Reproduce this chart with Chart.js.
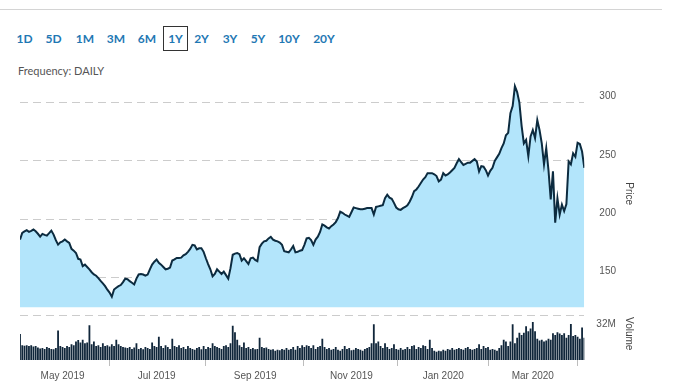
<!DOCTYPE html>
<html><head><meta charset="utf-8">
<script src="https://cdn.jsdelivr.net/npm/chart.js@4/dist/chart.umd.min.js"></script>
<style>
html,body{margin:0;padding:0;background:#fff;overflow:hidden;width:678px;height:381px;}
#wrap{position:absolute;left:0;top:0;width:678px;height:392px;}
.topline{position:absolute;left:0;top:9px;width:662px;height:1px;background:#d4d4d4;}
.rng{position:absolute;top:31px;font-family:Lato,sans-serif;font-weight:bold;font-size:12px;color:#1f78b4;transform:translateX(-50%);line-height:15px;white-space:nowrap;}
.box{position:absolute;left:163px;top:26px;width:23px;height:23px;border:1px solid #333;}
.freq{position:absolute;left:18px;top:64px;font-family:Lato,sans-serif;font-size:11px;color:#555;line-height:14px;}
</style></head>
<body>
<div class="topline"></div>
<div class="box"></div>
<span class="rng" style="left:24.5px">1D</span>
<span class="rng" style="left:53.5px">5D</span>
<span class="rng" style="left:85px">1M</span>
<span class="rng" style="left:116px">3M</span>
<span class="rng" style="left:147px">6M</span>
<span class="rng" style="left:175.5px">1Y</span>
<span class="rng" style="left:201.5px">2Y</span>
<span class="rng" style="left:230px">3Y</span>
<span class="rng" style="left:258px">5Y</span>
<span class="rng" style="left:289px">10Y</span>
<span class="rng" style="left:324px">20Y</span>
<div class="freq">Frequency: DAILY</div>
<div id="wrap"><canvas id="c" width="678" height="392"></canvas></div>
<script>
// ---- data ----
const monthTickIdx = [19, 61, 105, 148, 189, 229];
const monthLabels = ['May 2019','Jul 2019','Sep 2019','Nov 2019','Jan 2020','Mar 2020'];
const priceTicks = [150, 200, 250, 300];
const volumeTicks = [32];
const closePrices = [
182.5,188.2,189.5,190.5,189.1,190,191.1,189.6,187.5,185.1,
187.4,186.5,185.9,188,190.2,186.8,182,178.2,180.2,181,
182.5,181,179.7,174.5,173,171,166,165.4,159.7,161,
159,157,154.5,152.6,151.5,149.5,147,145,142.6,139.5,
137,133.5,139.7,141.2,142.6,143.5,146,149,148.5,146.8,
145.5,144,149,152.6,153,152.5,151.5,152.5,157,161,
163.5,165.4,162.6,161,159,157,157.5,158.5,164.5,165.5,
166.8,166.8,167,169,170,172,174.5,178,177.5,174,
175,175,172,166.5,161.5,157,151,153,157,155,
153,155,152,149,158,169.5,170.5,171,170,164.5,
166.5,164,161.5,166.5,167,165,164,176,179,181,
181.5,183.5,184.8,182.5,181.5,181,180,178,172.5,172,
171.5,174,177,171.5,172,173,173.5,178,183.5,184,
182,178,182.5,185,189,195.5,194.5,193,192,194,
195.5,197.5,201,206.5,205.5,204,203,202,206,210,
209.5,209,208.5,208.5,209,209.5,209.5,209.5,204,210.5,
211,211.5,212,218,221,218.5,217.5,214,210,208.5,
208,209.5,210.5,212,215,219,224,225.5,228,231,
234,236,239.5,239.5,239.5,238.5,237,232.5,234,239.5,
237.5,238.5,240,242,244,248,251.5,249,246.5,247.5,
248.5,248.5,250,251.5,249.5,241,245.5,245,242,237.5,
241.5,244,250,253,256,261,265,272,274,291,
297,314,309,300,280,265,268,254,271,276.5,
269.5,285,276.5,265,247,261,242,217,241,197,
218,204,212.5,207,213,249.5,247,256.5,253.5,265.5,
264.5,258,244
];
const volumesM = [
28,16,15.5,16,15,16,14.5,15,13.5,12.5,
13,12,14,13,12,11.5,13,32,15,14,
13,15,14,17,16,20,21.5,19,22,18,
19,37.5,17,20,15,16,14,18,15,16,
14.5,17,15,22,17,15,14,13.5,13,14,
12,13.5,18,12,13,11.5,14,13,12,19,
15,14,25,15,13,16,14,12,23,15,
14,16,13,14,12,15,13,12,11,13,
14,11.5,15,12,14,13,18,15,14,13,
12,15,16,14,18,37,30,22,16,14,
19,13,14,12,13,11.5,12,24,14,13,
13.5,12,11,11.5,10,11,10.5,12,11,13,
11,12,14,11,15,13,16,14,16,15,
13,16,12,14,15,23,14,12,13,11,
12,14,11,10,12,15,12,13,10.5,11,
13,12,11,10,12,13,14,18,38.5,18,
20,15,13,18,14,12,13,17,12,11,
13,11,12,14,12,15,16,12,14,13,
16,15,12,22,13,10,9,10,9.5,11,
10,12,11,13,11,12,13,12,11,13,
14,12,11,12,13,17,12,15,13,14,
11,12,11,10,13,16,22,20,15,20,
38.5,18,24,29.5,27,29.5,36.5,31,34,41,
31,23,21,22,20,21,23,22,29,27,
30,28.5,27,29,24,27,39,26,27,25,
23,35,24
];
// ---- chart ----
const PRICE_MIN = 124.3, PRICE_MAX = 319.4, VOL_MAX = 56.8, VOL_TOP_LINE = 48.5;
const axisFont = {family: "'Liberation Sans', Arial, sans-serif", size: 10};
Chart.defaults.font.family = "'Liberation Sans', Arial, sans-serif";
new Chart(document.getElementById('c'), {
  type: 'bar',
  data: {
    datasets: [
      {
        type: 'line',
        data: closePrices.map((v, i) => ({x: i, y: v})),
        yAxisID: 'yPrice',
        borderColor: '#0c2b3f',
        borderWidth: 2,
        backgroundColor: '#b3e5fb',
        fill: 'start',
        pointRadius: 0,
        tension: 0,
        order: 1
      },
      {
        type: 'bar',
        data: volumesM.map((v, i) => ({x: i, y: v})),
        yAxisID: 'yVol',
        backgroundColor: '#10263a',
        barPercentage: 0.9,
        categoryPercentage: 0.9,
        order: 2
      }
    ]
  },
  options: {
    responsive: false,
    animation: false,
    devicePixelRatio: 1,
    layout: {padding: {left: 20, top: 80, right: 43, bottom: 6}},
    plugins: {legend: {display: false}, tooltip: {enabled: false}},
    scales: {
      x: {
        type: 'linear', min: 0, max: closePrices.length - 1, offset: false,
        afterBuildTicks: s => { s.ticks = monthTickIdx.map(v => ({value: v})); },
        ticks: {autoSkip: false, maxRotation: 0, padding: 4, color: '#555', font: axisFont,
                callback: (v, i) => monthLabels[i]},
        grid: {drawOnChartArea: false, drawTicks: true, tickLength: 6, color: '#bdbdbd'},
        border: {display: false}
      },
      yPrice: {
        type: 'linear', position: 'right', stack: 'main', stackWeight: 228,
        min: PRICE_MIN, max: PRICE_MAX,
        afterBuildTicks: s => { s.ticks = priceTicks.map(v => ({value: v})); },
        ticks: {padding: 15, labelOffset: -6, color: '#555', font: axisFont, callback: v => String(v)},
        grid: {color: '#cccccc', drawTicks: false},
        border: {display: false, dash: [8, 5]},
        title: {display: true, text: 'Price', color: '#444', font: axisFont, padding: {top: 0, bottom: -8}}
      },
      yVol: {
        type: 'linear', position: 'right', stack: 'main', stackWeight: 52.7,
        min: 0, max: VOL_MAX,
        afterBuildTicks: s => { s.ticks = volumeTicks.concat([VOL_TOP_LINE]).map(v => ({value: v})); },
        ticks: {padding: 12, labelOffset: -6, color: '#555', font: axisFont,
                callback: v => (volumeTicks.includes(v) ? v + 'M' : '')},
        grid: {drawTicks: false,
               color: ctx => (ctx.tick && ctx.tick.value === VOL_TOP_LINE ? '#cccccc' : 'rgba(0,0,0,0)')},
        border: {display: false, dash: [8, 5]},
        title: {display: true, text: 'Volume', color: '#444', font: axisFont, padding: {top: 0, bottom: -8}}
      }
    }
  }
});
</script>
</body></html>
